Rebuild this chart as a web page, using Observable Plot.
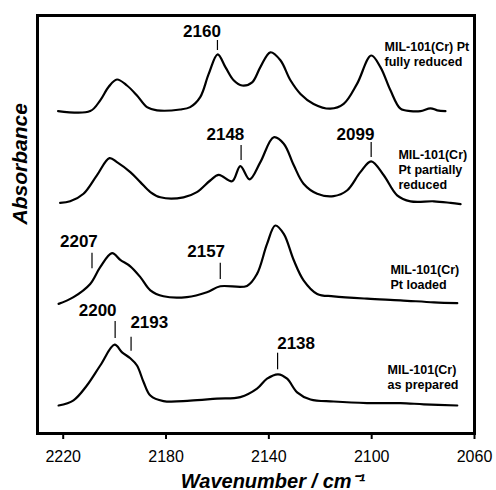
<!DOCTYPE html>
<html><head><meta charset="utf-8">
<script src="https://cdn.jsdelivr.net/npm/d3@7"></script>
<script src="https://cdn.jsdelivr.net/npm/@observablehq/plot@0.6"></script>
<style>body{margin:0;background:#fff}</style>
</head><body><div id="chart"></div>
<script>
// Spectra: wavenumber (cm-1) and absorbance (arbitrary units x1000, relative to each baseline)
const wn1 = [2222, 2209.5, 2205.6, 2202.3, 2199.1, 2195.2, 2191.3, 2187.4, 2183.5, 2174.5, 2170.6, 2166.7, 2163.4, 2159.9, 2156.9, 2153.7, 2150.4, 2146.5, 2143.3, 2139.4, 2135.5, 2131.6, 2127.7, 2122.6, 2116.1, 2110.9, 2105.7, 2100.2, 2096.6, 2092.7, 2088.8, 2084.9, 2081, 2077.1, 2074.5, 2071.3];
const ab1 = [1, 1, 28, 62, 80, 65, 40, 11, 3, 5, 11, 36, 94, 143, 111, 78, 65, 73, 111, 148, 128, 78, 44, 19, 7, 19, 69, 140, 111, 53, 7, 1, 1, 8, 3, 1];
const wn2 = [2221.2, 2217.3, 2212.1, 2206.9, 2202, 2199.1, 2193.9, 2190, 2186.1, 2182.2, 2173.2, 2168, 2162.8, 2159.5, 2154.3, 2151.1, 2147.5, 2143.3, 2138.1, 2134.2, 2130.3, 2126.5, 2121.2, 2114.8, 2109.6, 2104.4, 2100.2, 2095.3, 2090.1, 2084.9, 2075.8, 2069.3, 2065.4];
const ab2 = [-1, 3, 22, 68, 111, 101, 76, 51, 26, 13, 13, 26, 55, 69, 53, 91, 58, 101, 163, 147, 93, 47, 22, 16, 30, 76, 103, 68, 18, 3, 3, -1, -4];
const wn3 = [2221.8, 2216, 2209.5, 2205.6, 2201, 2197.8, 2193.9, 2190, 2186.1, 2181, 2171.9, 2164.1, 2158.9, 2148.5, 2144.6, 2140.7, 2137.5, 2134.2, 2130.3, 2126.5, 2121.2, 2114.8, 2101.8, 2088.8, 2075.8, 2066.7];
const ab3 = [-1, 16, 49, 91, 126, 109, 93, 66, 33, 18, 16, 28, 43, 44, 74, 149, 195, 174, 108, 58, 24, 18, 12, 8, 3, 1];
const wn4 = [2221.8, 2216, 2210.8, 2205.6, 2200, 2197.1, 2193.9, 2191.3, 2188.7, 2186.1, 2181, 2170.6, 2160.2, 2151.1, 2144.6, 2140.7, 2136.4, 2132.9, 2129, 2123.8, 2114.8, 2101.8, 2088.8, 2079.7, 2066.7];
const ab4 = [0, 13, 50, 100, 152, 133, 118, 100, 58, 25, 11, 12, 17, 21, 42, 67, 78, 67, 33, 15, 10, 6, 6, 3, 0];

const sampleNames = ["MIL-101(Cr) Pt\nfully reduced", "MIL-101(Cr)\nPt partially\nreduced", "MIL-101(Cr)\nPt loaded", "MIL-101(Cr)\nas prepared"];
const offsets = [805, 577.5, 325, 70];
const nameX = [2095.0, 2089.6, 2092.7, 2093.8];
const nameY = [982.5, 712.5, 425, 175];

// Peak annotations
const peakLabels = ["2160", "2148", "2099", "2207", "2157", "2200", "2193", "2138"];
const peakLabelX = [2166.0, 2156.9, 2106.3, 2213.9, 2164.4, 2206.6, 2186.5, 2129.4];
const peakLabelY = [1005, 747.5, 747.5, 480, 453.75, 306.25, 276.25, 224.25];
const peakLineX = [2160, 2150.8, 2100.2, 2208.8, 2158.9, 2199.8, 2193.6, 2136.6];
const peakLineY1 = [957.5, 682.5, 690, 411.75, 385, 237.5, 205.75, 159.25];
const peakLineY2 = [982.5, 720, 727.5, 450.75, 425.75, 280, 240.75, 200.75];

const xTicks = [2220, 2180, 2140, 2100, 2060];

const spectra = [[wn1, ab1], [wn2, ab2], [wn3, ab3], [wn4, ab4]];
const rows = spectra.flatMap(([w, a], i) => w.map((x, j) => ({series: i, x, y: a[j] + offsets[i]})));
const names = sampleNames.map((t, i) => ({t, x: nameX[i], y: nameY[i]}));
const peaks = peakLabels.map((t, i) => ({t, x: peakLabelX[i], y: peakLabelY[i], lx: peakLineX[i], y1: peakLineY1[i], y2: peakLineY2[i]}));

const font = "'Liberation Sans', Arial, Helvetica, sans-serif";
const chart = Plot.plot({
  width: 496, height: 490,
  marginLeft: 37, marginRight: 22, marginTop: 15, marginBottom: 57,
  style: {fontFamily: font, background: "#fff", color: "#000"},
  x: {domain: [2230, 2060]},
  y: {domain: [0, 1045], axis: null},
  marks: [
    Plot.axisX({ticks: xTicks, tickSize: 6, tickPadding: 11, tickFormat: d => String(d), fontSize: 16, strokeWidth: 2, label: null}),
    Plot.line(rows, {x: "x", y: "y", z: "series", curve: "catmull-rom", stroke: "black", strokeWidth: 2.2}),
    Plot.ruleX(peaks, {x: "lx", y1: "y1", y2: "y2", stroke: "black", strokeWidth: 1.2}),
    Plot.text(peaks, {x: "x", y: "y", text: "t", fontSize: 17, fontWeight: "bold", fill: "black"}),
    Plot.text(names, {x: "x", y: "y", text: "t", textAnchor: "start", lineAnchor: "top", lineHeight: 1.2, fontSize: 12.5, fontWeight: "bold", fill: "black"}),
    Plot.text(["Wavenumber / cm⁻¹"], {frameAnchor: "bottom", lineAnchor: "bottom", dy: 54, dx: 17, fontSize: 20, fontWeight: "bold", fontStyle: "italic", fill: "black"}),
    Plot.text(["Absorbance"], {frameAnchor: "left", dx: -17, rotate: -90, fontSize: 21, fontWeight: "bold", fontStyle: "italic", fill: "black"}),
    Plot.frame({stroke: "black", strokeWidth: 3})
  ]
});
document.getElementById("chart").append(chart);
</script>
</body></html>
